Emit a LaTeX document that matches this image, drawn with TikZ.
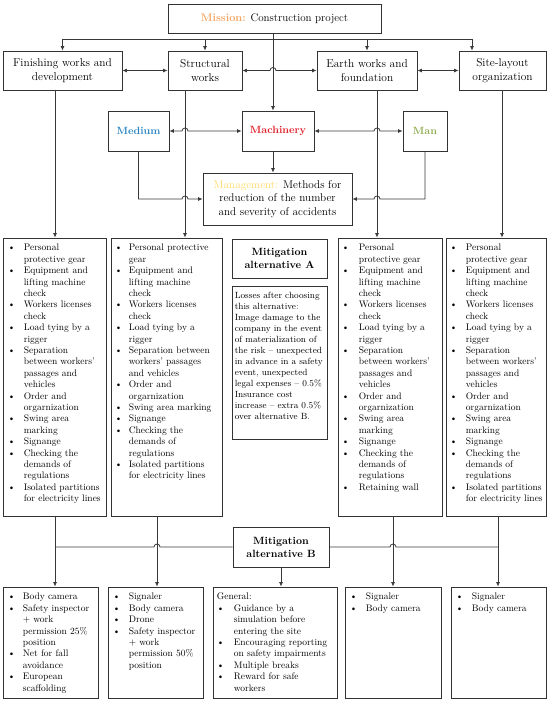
\documentclass[tikz,border=0pt]{standalone}
\usepackage{array}
\usetikzlibrary{arrows.meta}

\definecolor{boxgray}{HTML}{333333}
\definecolor{linegray}{HTML}{383838}
\definecolor{misorange}{HTML}{F4A460}
\definecolor{medblue}{HTML}{2E86C1}
\definecolor{machred}{HTML}{E0202A}
\definecolor{mangreen}{HTML}{8FAE4F}
\definecolor{mgmtyellow}{HTML}{FFD966}

\newcommand{\itm}{\textbullet &}
% rows shared by the lists of the works
\newcommand{\basicrows}{%
\itm Personal\\
& protective gear\\
\itm Equipment and\\
& lifting machine\\
& check\\
\itm Workers licenses\\
& check\\
\itm Load tying by a\\
& rigger\\
\itm Separation\\
& between workers'\\
& passages and\\
& vehicles\\
\itm Order and\\
& orgarnization\\
\itm Swing area\\
& marking\\
\itm Signange\\
\itm Checking the\\
& demands of\\
& regulations\\}

\begin{document}
\begin{tikzpicture}[x=1pt,y=-1pt,
  box/.style={draw=boxgray,line width=0.75pt,inner sep=0pt},
  head/.style={box,align=center,font=\fontsize{11.4}{14.5}\selectfont,minimum height=39},
  elem/.style={box,font=\fontsize{10.5}{13}\selectfont\bfseries,minimum height=40},
  alt/.style={box,align=center,font=\fontsize{10.5}{13}\selectfont\bfseries},
  list/.style={anchor=north west,inner sep=0pt,font=\fontsize{9.5}{11.4}\selectfont},
  line/.style={draw=linegray,line width=0.8pt},
  >={Latex[length=4.5pt,width=4pt]}]
\useasboundingbox (0,0) rectangle (550,701);

% columns of the long lines
\coordinate (c0) at (273,0);
\coordinate (c1) at (55,0);
\coordinate (c2t) at (185,0);
\coordinate (c2b) at (157,0);
\coordinate (c3t) at (377,0);
\coordinate (c3b) at (393,0);
\coordinate (c4t) at (502,0);
\coordinate (c4b) at (498,0);
\coordinate (bus) at (472,39);

\node[box,minimum width=213,minimum height=29,font=\fontsize{11}{13}\selectfont] (mis) at (274.5,18.5)
  {\textbf{\textcolor{misorange}{Mission:}} Construction project};

\node[head,minimum width=119] (fin) at (62.5,70.5) {Finishing works and\\development};
\node[head,minimum width=74] (str) at (205,70.5) {Structural\\works};
\node[head,minimum width=100] (ear) at (367,70.5) {Earth works and\\foundation};
\node[head,minimum width=87] (site) at (502.5,70.5) {Site-layout\\organization};

\node[elem,minimum width=61,text=medblue] (med) at (138.5,131) {Medium};
\node[elem,minimum width=72,text=machred] (mach) at (278,131) {Machinery};
\node[elem,minimum width=44,text=mangreen] (man) at (425,131) {Man};

\node[box,minimum width=149,minimum height=52,align=center,font=\fontsize{11.2}{13.7}\selectfont] (mgmt) at (277.5,199)
  {\textcolor{mgmtyellow}{Management:} Methods for\\reduction of the number\\and severity of accidents};

% lists of the works
\node[box,minimum width=103,minimum height=278] (rb1) at (54.5,377) {};
\node[box,minimum width=111,minimum height=278] (rb2) at (166.5,377) {};
\node[box,minimum width=104,minimum height=278] (rb3) at (390,377) {};
\node[box,minimum width=100,minimum height=278] (rb4) at (496,377) {};

\node[list] (t1) at ([shift={(5,5)}]rb1.north west) {\begin{tabular}{@{}p{16pt}@{}l@{}}
\basicrows
\itm Isolated partitions\\
& for electricity lines
\end{tabular}};

\node[list] (t2) at ([shift={(4,5)}]rb2.north west) {\begin{tabular}{@{}p{14pt}@{}l@{}}
\itm Personal protective\\
& gear\\
\itm Equipment and\\
& lifting machine\\
& check\\
\itm Workers licenses\\
& check\\
\itm Load tying by a\\
& rigger\\
\itm Separation between\\
& workers' passages\\
& and vehicles\\
\itm Order and\\
& orgarnization\\
\itm Swing area marking\\
\itm Signange\\
\itm Checking the\\
& demands of\\
& regulations\\
\itm Isolated partitions\\
& for electricity lines
\end{tabular}};

\node[list] (t3) at ([shift={(4,5)}]rb3.north west) {\begin{tabular}{@{}p{17pt}@{}l@{}}
\basicrows
\itm Retaining wall
\end{tabular}};

\node[list] (t4) at ([shift={(4,5)}]rb4.north west) {\begin{tabular}{@{}p{16pt}@{}l@{}}
\basicrows
\itm Isolated partitions\\
& for electricity lines
\end{tabular}};

% alternative A
\node[alt,minimum width=95,minimum height=39] (mitA) at (279.5,258.5) {Mitigation\\alternative A};
\node[box,minimum width=95,minimum height=153] (loss) at (279.5,362.5) {};
\node[list,font=\fontsize{9}{11}\selectfont] (tl) at ([shift={(3,5)}]loss.north west) {\begin{tabular}{@{}l@{}}
Losses after choosing\\
this alternative:\\
Image damage to the\\
company in the event\\
of materialization of\\
the risk -- unexpected\\
in advance in a safety\\
event, unexpected\\
legal expenses -- 0.5\%\\
Insurance cost\\
increase -- extra 0.5\%\\
over alternative B.
\end{tabular}};

% alternative B
\node[alt,minimum width=96,minimum height=40] (mitB) at (281,547) {Mitigation\\alternative B};

\node[box,minimum width=95,minimum height=111] (bb1) at (50.5,642.5) {};
\node[box,minimum width=95,minimum height=111] (bb2) at (155.5,642.5) {};
\node[box,minimum width=124,minimum height=111] (gen) at (275,642.5) {};
\node[box,minimum width=96,minimum height=111] (bb4) at (393,642.5) {};
\node[box,minimum width=95,minimum height=111] (bb5) at (498.5,642.5) {};

\node[list] (s1) at ([shift={(5,5)}]bb1.north west) {\begin{tabular}{@{}p{15pt}@{}l@{}}
\itm Body camera\\
\itm Safety inspector\\
& + work\\
& permission 25\%\\
& position\\
\itm Net for fall\\
& avoidance\\
\itm European\\
& scaffolding
\end{tabular}};

\node[list] (s2) at ([shift={(5,5)}]bb2.north west) {\begin{tabular}{@{}p{16pt}@{}l@{}}
\itm Signaler\\
\itm Body camera\\
\itm Drone\\
\itm Safety inspector\\
& + work\\
& permission 50\%\\
& position
\end{tabular}};

\node[list] (sg) at ([shift={(4,5)}]gen.north west) {\begin{tabular}{@{}p{17pt}@{}l@{}}
\multicolumn{2}{@{}l@{}}{General:}\\
\itm Guidance by a\\
& simulation before\\
& entering the site\\
\itm Encouraging reporting\\
& on safety impairments\\
\itm Multiple breaks\\
\itm Reward for safe\\
& workers
\end{tabular}};

\node[list] (s4) at ([shift={(5,5)}]bb4.north west) {\begin{tabular}{@{}p{16pt}@{}l@{}}
\itm Signaler\\
\itm Body camera
\end{tabular}};

\node[list] (s5) at ([shift={(5,5)}]bb5.north west) {\begin{tabular}{@{}p{16pt}@{}l@{}}
\itm Signaler\\
\itm Body camera
\end{tabular}};

% mission to the works
\draw[line] (fin.north |- bus) -- (bus);
\draw[line,->] (c0 |- mis.south) -- (c0 |- mach.north);
\foreach \w in {fin,str,ear}
{
	\draw[line,->] (\w.north |- bus) -- (\w.north);
}
\draw[line,->] (bus) -- (bus |- site.north);

% between the works
\draw[line,<->] (fin.east) -- (str.west);
\draw[line,<->] (str.east) -- ([xshift=-3pt]c0 |- str.east) arc[start angle=180,end angle=0,radius=3pt] -- (ear.west);
\draw[line,<->] (ear.east) -- (site.west);

% the four elements
\draw[line,<->] (med.east) -- ([xshift=-3pt]c2t |- med.east) arc[start angle=180,end angle=0,radius=3pt] -- (mach.west);
\draw[line,<->] (mach.east) -- ([xshift=-3pt]c3t |- mach.east) arc[start angle=180,end angle=0,radius=3pt] -- (man.west);
\draw[line,->] (c0 |- mach.south) -- (c0 |- mgmt.north);
\draw[line,->] (med.south) -- (med.south |- mgmt.west) -- ([xshift=-3pt]c2t |- mgmt.west) arc[start angle=180,end angle=0,radius=3pt] -- (mgmt.west);
\draw[line,->] (man.south) -- (man.south |- mgmt.east) -- ([xshift=3pt]c3t |- mgmt.east) arc[start angle=0,end angle=180,radius=3pt] -- (mgmt.east);

% works down to the lists
\draw[line,->] (c1 |- fin.south) -- (c1 |- rb1.north);
\draw[line,->] (c2t |- str.south) -- (c2t |- rb2.north);
\draw[line,->] (c3t |- ear.south) -- (c3t |- rb3.north);
\draw[line,->] (c4t |- site.south) -- (c4t |- rb4.north);

% lists through alternative B
\draw[line] (mitB.west) -- ([xshift=3pt]c2b |- mitB.west) arc[start angle=0,end angle=180,radius=3pt] -- (c1 |- mitB.west);
\draw[line] (mitB.east) -- ([xshift=-3pt]c3b |- mitB.east) arc[start angle=180,end angle=0,radius=3pt] -- (c4b |- mitB.east);
\draw[line,->] (c1 |- rb1.south) -- (c1 |- bb1.north);
\draw[line,->] (c2b |- rb2.south) -- (c2b |- bb2.north);
\draw[line,->] (mitB.south) -- (mitB.south |- gen.north);
\draw[line,->] (c3b |- rb3.south) -- (c3b |- bb4.north);
\draw[line,->] (c4b |- rb4.south) -- (c4b |- bb5.north);

\end{tikzpicture}
\end{document}
